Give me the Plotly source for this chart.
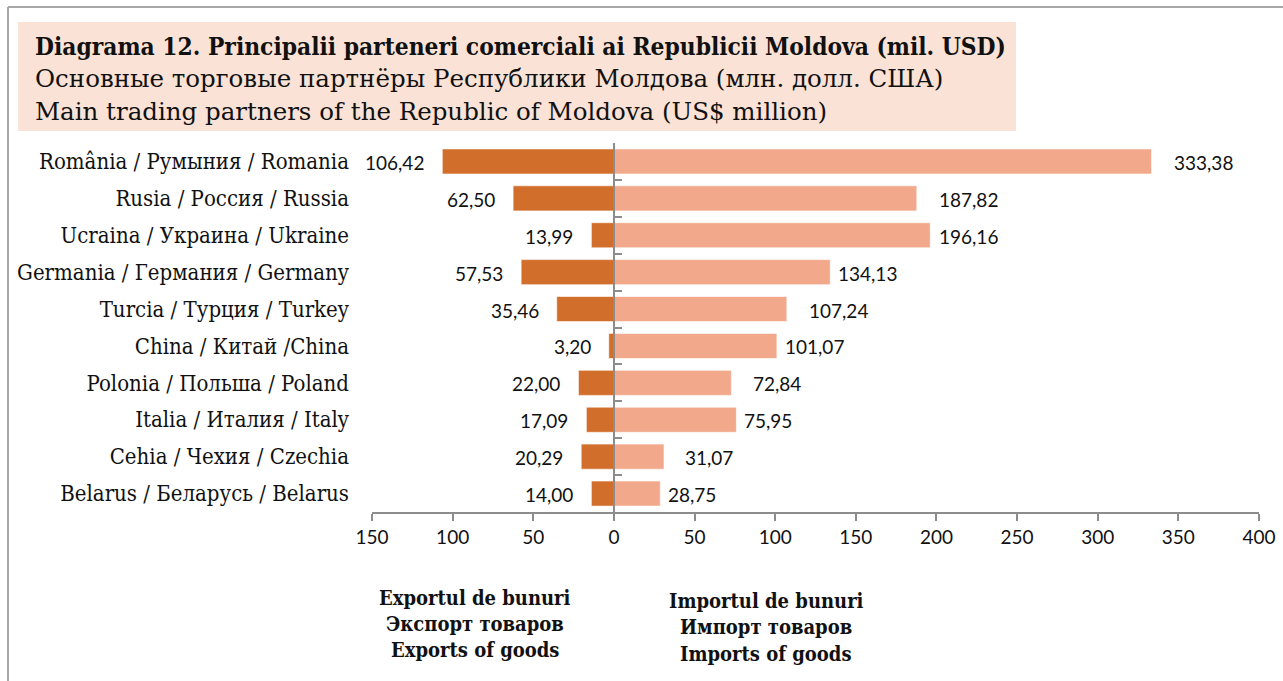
import plotly.graph_objects as go

countries = [
    "România / Румыния / Romania",
    "Rusia / Россия / Russia",
    "Ucraina / Украина / Ukraine",
    "Germania / Германия / Germany",
    "Turcia / Турция / Turkey",
    "China / Китай /China",
    "Polonia / Польша / Poland",
    "Italia / Италия / Italy",
    "Cehia / Чехия / Czechia",
    "Belarus / Беларусь / Belarus",
]
exports = [106.42, 62.50, 13.99, 57.53, 35.46, 3.20, 22.00, 17.09, 20.29, 14.00]
imports = [333.38, 187.82, 196.16, 134.13, 107.24, 101.07, 72.84, 75.95, 31.07, 28.75]
x_ticks = [-150, -100, -50, 0, 50, 100, 150, 200, 250, 300, 350, 400]
x_tick_text = ["150", "100", "50", "0", "50", "100", "150", "200", "250", "300", "350", "400"]

title_lines = [
    "<b>Diagrama 12. Principalii parteneri comerciali ai Republicii Moldova (mil. USD)</b>",
    "Основные торговые партнёры Республики Молдова (млн. долл. США)",
    "Main trading partners of the Republic of Moldova (US$ million)",
]
export_caption = ["Exportul de bunuri", "Экспорт товаров", "Exports of goods"]
import_caption = ["Importul de bunuri", "Импорт товаров", "Imports of goods"]

SERIF_C = "DejaVu Serif Condensed, DejaVu Serif, serif"
SERIF = "DejaVu Serif, serif"
SANS = "Lato, Liberation Sans, sans-serif"
DARK = "#D26E2B"
LIGHT = "#F2A98B"

W, H = 1283, 681
L, R, T, B = 372, 24, 143, 169
pw, ph = W - L - R, H - T - B


def px(xp):
    return (xp - L) / pw


def py(yp):
    return (H - B - yp) / ph


def fmt(v):
    return f"{v:.2f}".replace(".", ",")


idx = list(range(len(countries)))

fig = go.Figure()
fig.add_trace(go.Bar(
    y=idx, x=[-v for v in exports], orientation="h",
    marker=dict(color=DARK, line=dict(color="rgba(255,255,255,0.6)", width=1)),
    hoverinfo="skip",
))
fig.add_trace(go.Bar(
    y=idx, x=imports, orientation="h",
    marker=dict(color=LIGHT, line=dict(color="rgba(255,255,255,0.6)", width=1)),
    hoverinfo="skip",
))
fig.add_trace(go.Scatter(x=[None], y=[None], yaxis="y2", showlegend=False, hoverinfo="skip"))

annotations = []
import_gap = [20, 20, 7, 6, 20, 6, 20, 6, 19, 6]
for i in idx:
    annotations.append(dict(
        x=-exports[i], y=i, xref="x", yref="y", text=fmt(exports[i]),
        showarrow=False, xanchor="right", xshift=-16, yshift=-1,
        font=dict(family=SANS, size=19, color="#111"),
    ))
    annotations.append(dict(
        x=imports[i], y=i, xref="x", yref="y", text=fmt(imports[i]),
        showarrow=False, xanchor="left", xshift=import_gap[i], yshift=-1,
        font=dict(family=SANS, size=19, color="#111"),
    ))

title_fonts = [(SERIF_C, 24.3), (SERIF, 24.5), (SERIF, 24.5)]
for line, yy, (fam, sz) in zip(title_lines, [46, 79, 111], title_fonts):
    annotations.append(dict(
        x=px(33), y=py(yy), xref="paper", yref="paper", text=line,
        showarrow=False, xanchor="left", yanchor="middle",
        font=dict(family=fam, size=sz, color="#111"),
    ))

for lines, cx, ys in [(export_caption, 475, [598, 624, 650]), (import_caption, 766, [601, 627, 654])]:
    for line, yy in zip(lines, ys):
        annotations.append(dict(
            x=px(cx), y=py(yy), xref="paper", yref="paper", text="<b>" + line + "</b>",
            showarrow=False, xanchor="center", yanchor="middle",
            font=dict(family=SERIF_C, size=20, color="#111"),
        ))

shapes = [
    dict(type="rect", xref="paper", yref="paper", x0=px(18), x1=px(1016), y0=py(131), y1=py(22),
         fillcolor="#FAE3D6", line=dict(width=0), layer="below"),
    dict(type="line", xref="paper", yref="paper", x0=px(8), x1=px(1290), y0=py(7), y1=py(7),
         line=dict(color="#A8A8A8", width=2)),
    dict(type="line", xref="paper", yref="paper", x0=px(8), x1=px(8), y0=py(7), y1=py(690),
         line=dict(color="#A8A8A8", width=2)),
]

fig.update_layout(
    width=W, height=H,
    margin=dict(l=L, r=R, t=T, b=B, autoexpand=False),
    paper_bgcolor="white", plot_bgcolor="rgba(0,0,0,0)",
    barmode="overlay", bargap=0.32, showlegend=False,
    xaxis=dict(
        range=[-150, 400], tickvals=x_ticks, ticktext=x_tick_text,
        showgrid=False, zeroline=False, showline=True, linecolor="#8C8C8C", linewidth=2,
        ticks="outside", ticklen=7, tickwidth=2, tickcolor="#8C8C8C",
        tickfont=dict(family=SANS, size=19, color="#111"),
        fixedrange=True,
    ),
    yaxis=dict(
        range=[len(countries) - 0.5, -0.5], tickvals=idx, ticktext=countries,
        showgrid=False, zeroline=False, showline=False, ticks="",
        ticklabelstandoff=22,
        tickfont=dict(family=SERIF_C, size=22, color="#111"),
        fixedrange=True,
    ),
    yaxis2=dict(
        overlaying="y", anchor="free", position=150 / 550, side="left",
        range=[len(countries) - 0.5, -0.5],
        tickvals=[i - 0.5 for i in range(len(countries) + 1)],
        showticklabels=False, showgrid=False, zeroline=False,
        showline=True, linecolor="#8C8C8C", linewidth=2,
        ticks="inside", ticklen=7, tickwidth=2, tickcolor="#8C8C8C",
        fixedrange=True,
    ),
    annotations=annotations,
    shapes=shapes,
)

fig.write_html(
    "out.html",
    config={"displayModeBar": False},
    post_script="document.body.style.margin='0';document.body.style.overflow='hidden';",
)
